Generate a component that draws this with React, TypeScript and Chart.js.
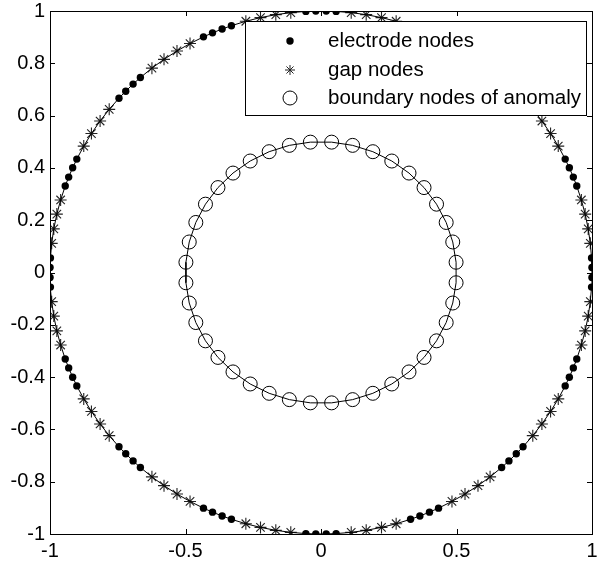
import React, { useEffect, useRef } from 'react';
import { Chart, registerables } from 'chart.js';

Chart.register(...registerables);

// ---- data ----
const OUTER_RADIUS = 1;
const INNER_RADIUS = 0.5;
const electrodeCentresDeg = [0, 22.5, 45, 67.5, 90, 112.5, 135, 157.5, 180, 202.5, 225, 247.5, 270, 292.5, 315, 337.5];
const electrodeNodeOffsetsDeg = [-3.2, -1.1, 1.1, 3.2];
const gapNodeOffsetsDeg = [6.4, 9.6, 12.9, 16.1];
const anomalyNodeAnglesDeg = [
  4.5, 13.5, 22.5, 31.5, 40.5, 49.5, 58.5, 67.5, 76.5, 85.5,
  94.5, 103.5, 112.5, 121.5, 130.5, 139.5, 148.5, 157.5, 166.5, 175.5,
  184.5, 193.5, 202.5, 211.5, 220.5, 229.5, 238.5, 247.5, 256.5, 265.5,
  274.5, 283.5, 292.5, 301.5, 310.5, 319.5, 328.5, 337.5, 346.5, 355.5,
];
const xTickValues = [-1, -0.5, 0, 0.5, 1];
const xTickLabels = ['-1', '-0.5', '0', '0.5', '1'];
const yTickValues = [-1, -0.8, -0.6, -0.4, -0.2, 0, 0.2, 0.4, 0.6, 0.8, 1];
const yTickLabels = ['-1', '-0.8', '-0.6', '-0.4', '-0.2', '0', '0.2', '0.4', '0.6', '0.8', '1'];
const legendLabels = ['electrode nodes', 'gap nodes', 'boundary nodes of anomaly'];

const FONT = '"Liberation Sans", Arial, sans-serif';

const toXY = (r: number, deg: number) => ({
  x: r * Math.cos((deg * Math.PI) / 180),
  y: r * Math.sin((deg * Math.PI) / 180),
});

const electrodeAngles = electrodeCentresDeg.flatMap((c) => electrodeNodeOffsetsDeg.map((o) => c + o));
const gapAngles = electrodeCentresDeg.flatMap((c) => gapNodeOffsetsDeg.map((o) => c + o));
const electrodePoints = electrodeAngles.map((a) => toXY(OUTER_RADIUS, a));
const gapPoints = gapAngles.map((a) => toXY(OUTER_RADIUS, a));
const outerSorted = [...electrodeAngles, ...gapAngles]
  .map((a) => ((a % 360) + 360) % 360)
  .sort((a, b) => a - b);
const outerLine = [...outerSorted, outerSorted[0]].map((a) => toXY(OUTER_RADIUS, a));
const anomalyPoints = [...anomalyNodeAnglesDeg, anomalyNodeAnglesDeg[0]].map((a) => toXY(INNER_RADIUS, a));

function drawStar(ctx: CanvasRenderingContext2D, x: number, y: number, r: number) {
  ctx.beginPath();
  for (let i = 0; i < 4; i++) {
    const a = (i * Math.PI) / 4;
    ctx.moveTo(x - r * Math.cos(a), y - r * Math.sin(a));
    ctx.lineTo(x + r * Math.cos(a), y + r * Math.sin(a));
  }
  ctx.stroke();
}

const framePlugin = {
  id: 'matlabFrame',
  afterDatasetsDraw(chart: any) {
    const { ctx, chartArea } = chart;
    const { left, right, top, bottom } = chartArea;
    const xs = chart.scales.x;
    const ys = chart.scales.y;
    ctx.save();
    ctx.strokeStyle = '#000';
    ctx.lineWidth = 1;
    ctx.strokeRect(Math.round(left) + 0.5, Math.round(top) + 0.5, Math.round(right - left), Math.round(bottom - top));
    const tl = 5;
    ctx.beginPath();
    xTickValues.forEach((v) => {
      const px = Math.round(xs.getPixelForValue(v)) + 0.5;
      ctx.moveTo(px, bottom);
      ctx.lineTo(px, bottom - tl);
      ctx.moveTo(px, top);
      ctx.lineTo(px, top + tl);
    });
    yTickValues.forEach((v) => {
      const py = Math.round(ys.getPixelForValue(v)) + 0.5;
      ctx.moveTo(left, py);
      ctx.lineTo(left + tl, py);
      ctx.moveTo(right, py);
      ctx.lineTo(right - tl, py);
    });
    ctx.stroke();

    // legend box
    const bx = 245.5, by = 21.5, bw = 341, bh = 94;
    ctx.fillStyle = '#fff';
    ctx.fillRect(bx, by, bw, bh);
    ctx.strokeRect(bx, by, bw, bh);
    const rows = [41, 70, 98];
    const mx = 290;
    ctx.fillStyle = '#000';
    ctx.beginPath();
    ctx.arc(mx, rows[0], 3.7, 0, Math.PI * 2);
    ctx.fill();
    ctx.strokeStyle = '#222';
    drawStar(ctx, mx, rows[1], 5);
    ctx.strokeStyle = '#000';
    ctx.beginPath();
    ctx.arc(mx, rows[2], 7, 0, Math.PI * 2);
    ctx.stroke();
    ctx.fillStyle = '#000';
    ctx.font = `20.5px ${FONT}`;
    ctx.textBaseline = 'middle';
    ctx.textAlign = 'left';
    legendLabels.forEach((t, i) => ctx.fillText(t, 328, rows[i]));
    ctx.restore();
  },
};

export default function App() {
  const ref = useRef<HTMLCanvasElement>(null);
  useEffect(() => {
    document.body.style.margin = '0';
    const canvas = ref.current!;
    const lastAnomaly = anomalyPoints.length - 1;
    const chart = new Chart(canvas, {
      type: 'scatter',
      data: {
        datasets: [
          {
            label: 'outer boundary',
            data: outerLine,
            showLine: true,
            borderColor: '#000',
            borderWidth: 1,
            pointRadius: 0,
            fill: false,
          },
          {
            label: legendLabels[2],
            data: anomalyPoints,
            showLine: true,
            borderColor: '#000',
            borderWidth: 1,
            pointStyle: 'circle',
            pointRadius: (c: any) => (c.dataIndex === lastAnomaly ? 0 : 7),
            pointBackgroundColor: 'rgba(0,0,0,0)',
            pointBorderColor: '#000',
            pointBorderWidth: 1,
            fill: false,
          },
          {
            label: legendLabels[0],
            data: electrodePoints,
            showLine: false,
            pointStyle: 'circle',
            pointRadius: 3.7,
            pointBackgroundColor: '#000',
            pointBorderColor: '#000',
            pointBorderWidth: 0,
          },
          {
            label: legendLabels[1],
            data: gapPoints,
            showLine: false,
            pointStyle: 'star',
            pointRadius: 6,
            pointBackgroundColor: '#222',
            pointBorderColor: '#222',
            pointBorderWidth: 1.1,
          },
        ],
      },
      options: {
        animation: false,
        responsive: false,
        maintainAspectRatio: false,
        layout: { padding: { top: 11, right: 3, left: 0, bottom: 0 } },
        plugins: { legend: { display: false }, tooltip: { enabled: false } },
        scales: {
          x: {
            type: 'linear',
            min: -1,
            max: 1,
            grid: { display: false, drawTicks: false },
            border: { display: false },
            afterBuildTicks: (s: any) => {
              s.ticks = xTickValues.map((v) => ({ value: v }));
            },
            afterFit: (s: any) => {
              s.height = 31;
              s.paddingLeft = 0;
              s.paddingRight = 0;
            },
            ticks: {
              padding: 5,
              color: '#000',
              font: { family: FONT, size: 20 },
              maxRotation: 0,
              callback: (v: any) => xTickLabels[xTickValues.indexOf(Number(v))] ?? '',
            },
          },
          y: {
            type: 'linear',
            min: -1,
            max: 1,
            grid: { display: false, drawTicks: false },
            border: { display: false },
            afterBuildTicks: (s: any) => {
              s.ticks = yTickValues.map((v) => ({ value: v }));
            },
            afterFit: (s: any) => {
              s.width = 50;
              s.paddingTop = 0;
              s.paddingBottom = 0;
            },
            ticks: {
              padding: 5,
              color: '#000',
              font: { family: FONT, size: 20 },
              callback: (v: any) => {
                const i = yTickValues.findIndex((t) => Math.abs(t - Number(v)) < 1e-9);
                return i >= 0 ? yTickLabels[i] : '';
              },
            },
          },
        },
      },
      plugins: [framePlugin],
    });
    return () => chart.destroy();
  }, []);
  return <canvas ref={ref} width={600} height={565} style={{ display: 'block' }} />;
}
